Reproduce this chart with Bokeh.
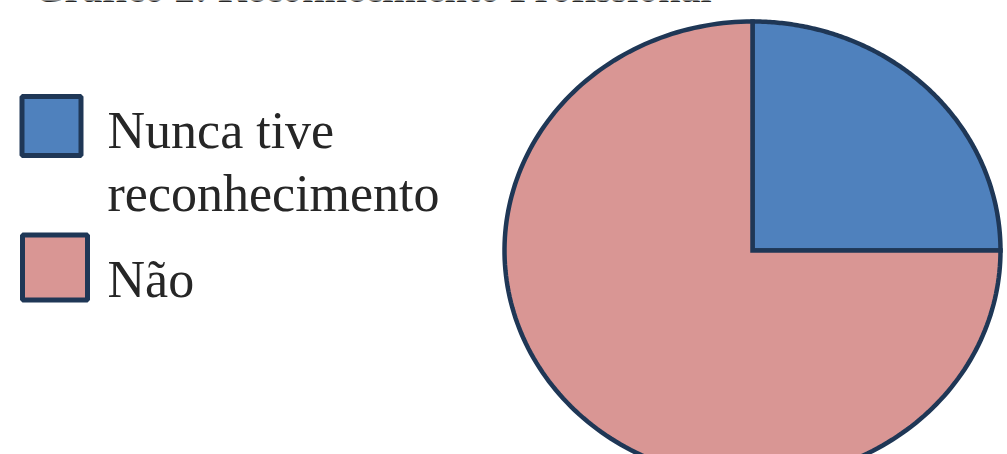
import numpy as np
from bokeh.plotting import figure
from bokeh.models import Range1d, ColumnDataSource
from bokeh.core.properties import value
from bokeh.embed import file_html
from bokeh.resources import INLINE

# ---- data ----
title_text = "Gráfico 2: Reconhecimento Profissional"
categories = ["Nunca tive\nreconhecimento", "Não"]
values = [25, 75]
colors = ["#4F81BD", "#D99694"]
edge_color = "#1F3756"

W, H = 1007, 454
p = figure(width=W, height=H, output_backend="svg", toolbar_location=None,
           x_range=Range1d(0, W), y_range=Range1d(H, 0), min_border=0)
p.axis.visible = False
p.grid.visible = False
p.outline_line_color = None
p.background_fill_color = "white"
p.border_fill_color = "white"

# ---- pie (slightly elliptical, starting at 12 o'clock, clockwise) ----
cx, cy, rx, ry = 752, 250, 248, 229
total = float(sum(values))
fracs = np.array(values) / total
ends = np.cumsum(fracs)
starts = ends - fracs
xs, ys = [], []
for s, e in zip(starts, ends):
    th = np.pi / 2 - 2 * np.pi * np.linspace(s, e, 200)
    px = np.concatenate([[cx], cx + rx * np.cos(th), [cx]])
    py = np.concatenate([[cy], cy - ry * np.sin(th), [cy]])
    xs.append(list(px))
    ys.append(list(py))
src = ColumnDataSource(dict(xs=xs, ys=ys, color=colors, cat=categories))
p.patches("xs", "ys", source=src, fill_color="color", line_color=edge_color,
          line_width=4.5, line_join="miter")

# ---- legend ----
fs = 52
off = 0.39 * fs
sq = [(51, 125.5, 64), (54.5, 267, 70)]
baselines = [[150, 213], [299]]
for (sx, sy, sz), col, lab, bl in zip(sq, colors, categories, baselines):
    p.rect(x=[sx], y=[sy], width=sz - 5, height=sz - 5, fill_color=col,
           line_color=edge_color, line_width=5)
    for line, yb in zip(lab.split("\n"), bl):
        p.text(x=[107], y=[yb - off], text=[line], text_font=value("Liberation Serif"),
               text_font_size=f"{fs}px", text_color="#262626",
               text_baseline="alphabetic", text_align="left")

# ---- title (cut off at top) ----
tfs = 40
p.text(x=[33], y=[4 - 0.39 * tfs], text=[title_text], text_font=value("Liberation Serif"),
       text_font_size=f"{tfs}px", text_font_style="bold", text_color="#262626",
       text_baseline="alphabetic", text_align="left")

open("out.html", "w").write(file_html(p, INLINE))
